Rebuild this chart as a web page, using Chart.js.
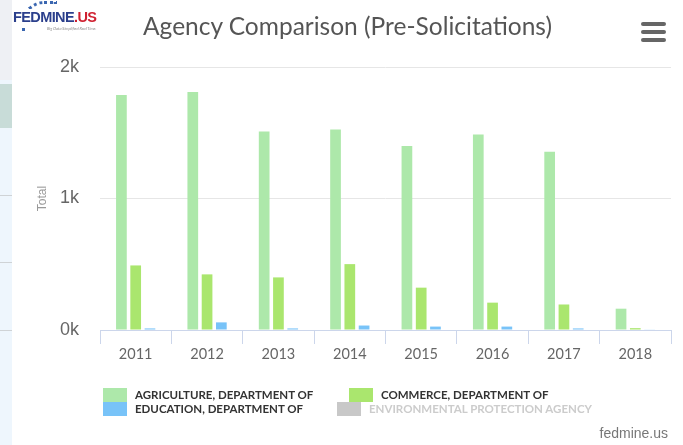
<!DOCTYPE html>
<html>
<head>
<meta charset="utf-8">
<script src="https://cdn.jsdelivr.net/npm/chart.js@4.4.1/dist/chart.umd.min.js"></script>
<style>
  html, body { margin: 0; padding: 0; background: #fff; }
  body { width: 683px; height: 445px; position: relative; overflow: hidden; font-family: Lato, "Open Sans", sans-serif; }
  #chartWrap { position: absolute; left: 0; top: 0; width: 683px; height: 445px; }
  .strip { position: absolute; left: 0; top: 0; width: 12px; height: 445px; background: #eef6fd; }
  .strip .top { position: absolute; left: 0; top: 0; width: 12px; height: 80px; background: #eef0f4; }
  .strip .blk { position: absolute; left: 0; top: 84px; width: 12px; height: 44px; background: #c8dcd8; }
  .strip .ln { position: absolute; left: 0; width: 12px; height: 1px; background: #cfd3d6; }
  .logo { position: absolute; left: 12px; top: 0; width: 90px; height: 34px; }
  .logo .dots { position: absolute; left: 10px; top: 1px; width: 32px; height: 28px; border-top: 3px dotted #3a66b0; border-left: 3px dotted #3a66b0; border-radius: 22px 0 0 0; }
  .logo .word { position: absolute; left: 1px; top: 9px; font-family: "Liberation Sans Narrow", "Liberation Sans", Arial, sans-serif; font-weight: bold; font-size: 14.5px; letter-spacing: -0.6px; color: #2b3f8c; white-space: nowrap; background: #fff; padding-right: 2px; }
  .logo .word span { color: #cf2030; }
  .logo .tag { position: absolute; left: 35px; top: 26px; font-size: 4px; font-style: italic; color: #888; white-space: nowrap; }
  .title { position: absolute; left: 0; width: 695px; top: 11px; text-align: center; font-size: 24.5px; color: #555; }
  .menu { position: absolute; left: 641px; width: 25px; height: 4px; background: #666; border-radius: 2px; }
  .legend-item { position: absolute; height: 14px; font-weight: bold; font-size: 11.5px; color: #333; white-space: nowrap; }
  .legend-item .box { position: absolute; left: 0; top: 0; width: 24px; height: 14px; }
  .legend-item .txt { position: absolute; top: 0; line-height: 14px; }
  .legend-item.off { color: #ccc; }
  .credit { position: absolute; right: 15px; top: 425px; font-size: 14px; color: #777; font-family: "Liberation Sans", Arial, sans-serif; }
</style>
</head>
<body>
<div id="chartWrap"><canvas id="agencyChart" width="683" height="445"></canvas></div>

<div class="strip">
  <div class="top"></div>
  <div class="blk"></div>
  <div class="ln" style="top:195px"></div>
  <div class="ln" style="top:262px"></div>
  <div class="ln" style="top:330px"></div>
</div>

<div class="logo">
  <div class="dots"></div>
  <div class="word">FEDMINE<span>.US</span></div>
  <div class="tag">Big Data Simplified Real Time.</div>
</div>

<div class="title">Agency Comparison (Pre-Solicitations)</div>
<div class="menu" style="top:22px"></div>
<div class="menu" style="top:30px"></div>
<div class="menu" style="top:38px"></div>

<div id="legend"></div>
<div class="credit">fedmine.us</div>

<script>
const years = ["2011", "2012", "2013", "2014", "2015", "2016", "2017", "2018"];

const agricultureValues = [1787, 1810, 1509, 1524, 1400, 1486, 1356, 162];
const commerceValues    = [491, 423, 400, 501, 322, 208, 194, 14];
const educationValues   = [12, 58, 12, 34, 26, 26, 12, 3];
const epaValues         = []; // series switched off in the legend

const yTicks = [0, 1000, 2000];

const gridColor = "#e6e6e6";
const axisColor = "#ccd6eb";

const chart = new Chart(document.getElementById("agencyChart"), {
  type: "bar",
  data: {
    labels: years,
    datasets: [
      { label: "AGRICULTURE, DEPARTMENT OF", data: agricultureValues, backgroundColor: "#ade8aa" },
      { label: "COMMERCE, DEPARTMENT OF", data: commerceValues, backgroundColor: "#aae66e" },
      { label: "EDUCATION, DEPARTMENT OF", data: educationValues, backgroundColor: "#78c3f8" },
      { label: "ENVIRONMENTAL PROTECTION AGENCY", data: epaValues, backgroundColor: "#c8c8c8", hidden: true }
    ]
  },
  options: {
    responsive: false,
    animation: false,
    devicePixelRatio: 1,
    categoryPercentage: 0.6,
    barPercentage: 0.75,
    layout: {
      padding: { left: 0, top: 67, right: 12, bottom: 85 }
    },
    plugins: {
      legend: { display: false },
      title: { display: false },
      tooltip: { enabled: false }
    },
    scales: {
      x: {
        grid: {
          offset: true,
          drawOnChartArea: false,
          drawTicks: true,
          tickLength: 14,
          color: axisColor
        },
        border: { color: axisColor, width: 1 },
        ticks: {
          color: "#666",
          padding: 2,
          maxRotation: 0,
          font: { family: "Lato", size: 14.5 }
        },
        afterFit: scale => { scale.height = 30; }
      },
      y: {
        min: 0,
        max: 2000,
        afterBuildTicks: scale => { scale.ticks = yTicks.map(v => ({ value: v })); },
        grid: { color: gridColor, drawTicks: false },
        border: { display: false },
        ticks: {
          color: "#666",
          padding: 21,
          font: { family: "Liberation Sans", size: 18 },
          callback: v => (v / 1000) + "k"
        },
        title: {
          display: true,
          text: "Total",
          color: "#999",
          padding: { top: 35 },
          font: { family: "Liberation Sans", size: 12 }
        },
        afterFit: scale => { scale.width = 100; }
      }
    }
  }
});

// html legend, two columns like the original
const legendSpots = [
  { box: [103, 388], txt: 135 },
  { box: [349, 388], txt: 381 },
  { box: [103, 402], txt: 135 },
  { box: [337, 402], txt: 369 }
];
const legendEl = document.getElementById("legend");
chart.data.datasets.forEach((ds, i) => {
  const spot = legendSpots[i];
  const item = document.createElement("div");
  item.className = "legend-item" + (ds.hidden ? " off" : "");
  item.style.left = spot.box[0] + "px";
  item.style.top = spot.box[1] + "px";
  item.innerHTML = `<div class="box" style="background:${ds.backgroundColor}"></div>` +
    `<div class="txt" style="left:${spot.txt - spot.box[0]}px">${ds.label}</div>`;
  legendEl.appendChild(item);
});
</script>
</body>
</html>
